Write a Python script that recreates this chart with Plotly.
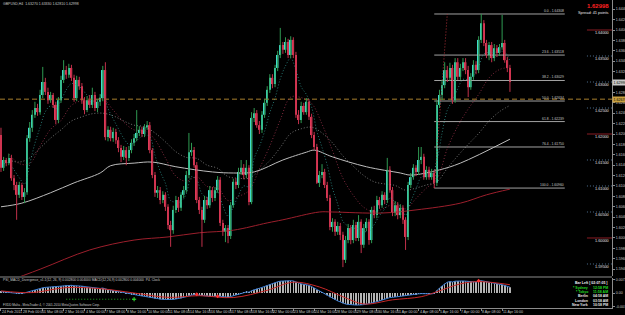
import plotly.graph_objects as go

# ---------------- price data (GBPUSD H4) ----------------
opens = [1.6198, 1.6135, 1.6150, 1.6144, 1.6154, 1.6115, 1.6102, 1.6083, 1.6102, 1.6079,
         1.6088, 1.6192, 1.6212, 1.6237, 1.6250, 1.6242, 1.6275, 1.6300, 1.6281, 1.6265,
         1.6275, 1.6256, 1.6227, 1.6265, 1.6304, 1.6323, 1.6314, 1.6327, 1.6308, 1.6269,
         1.6304, 1.6292, 1.6265, 1.6246, 1.6265, 1.6256, 1.6275, 1.6250, 1.6262, 1.6269,
         1.6323, 1.6194, 1.6208, 1.6192, 1.6204, 1.6188, 1.6173, 1.6156, 1.6169, 1.6154,
         1.6169, 1.6183, 1.6192, 1.6202, 1.6208, 1.6200, 1.6213, 1.6217, 1.6169, 1.6121,
         1.6087, 1.6092, 1.6073, 1.6083, 1.6060, 1.6025, 1.6015, 1.6054, 1.6073, 1.6058,
         1.6083, 1.6092, 1.6121, 1.6165, 1.6169, 1.6140, 1.6073, 1.6054, 1.6035, 1.6073,
         1.6063, 1.6092, 1.6077, 1.6092, 1.6112, 1.6029, 1.6012, 1.6019, 1.6004, 1.6063,
         1.6108, 1.6102, 1.6127, 1.6135, 1.6121, 1.6135, 1.6069, 1.6231, 1.6240, 1.6217,
         1.6208, 1.6237, 1.6260, 1.6285, 1.6308, 1.6296, 1.6327, 1.6352, 1.6371, 1.6362,
         1.6377, 1.6352, 1.6381, 1.6352, 1.6237, 1.6227, 1.6254, 1.6242, 1.6262, 1.6233,
         1.6198, 1.6175, 1.6106, 1.6121, 1.6127, 1.6102, 1.6077, 1.6021, 1.6031, 1.6012,
         1.6023, 1.6006, 1.5958, 1.5996, 1.6019, 1.5996, 1.6025, 1.6000, 1.6031, 1.5987,
         1.6019, 1.6031, 1.5996, 1.6054, 1.6044, 1.6073, 1.6063, 1.6083, 1.6073, 1.6131,
         1.6092, 1.6048, 1.6063, 1.6044, 1.6058, 1.6035, 1.6002, 1.6102, 1.6117, 1.6135,
         1.6127, 1.6150, 1.6156, 1.6117, 1.6131, 1.6117, 1.6125, 1.6106, 1.6256, 1.6275,
         1.6294, 1.6323, 1.6308, 1.6327, 1.6265, 1.6338, 1.6310, 1.6327, 1.6338, 1.6323,
         1.6290, 1.6310, 1.6333, 1.6323, 1.6381, 1.6413, 1.6375, 1.6352, 1.6371, 1.6346,
         1.6365, 1.6356, 1.6367, 1.6375, 1.6342, 1.6327]
highs = [1.6212, 1.6156, 1.6154, 1.6162, 1.6160, 1.6121, 1.6108, 1.6108, 1.6106, 1.6096,
         1.6198, 1.6223, 1.6246, 1.6262, 1.6258, 1.6285, 1.6329, 1.6308, 1.6289, 1.6281,
         1.6279, 1.6262, 1.6271, 1.6312, 1.6342, 1.6331, 1.6335, 1.6333, 1.6314, 1.6312,
         1.6310, 1.6298, 1.6271, 1.6273, 1.6275, 1.6289, 1.6281, 1.6267, 1.6277, 1.6331,
         1.6338, 1.6215, 1.6214, 1.6212, 1.6210, 1.6194, 1.6179, 1.6177, 1.6175, 1.6177,
         1.6190, 1.6200, 1.6246, 1.6215, 1.6214, 1.6219, 1.6225, 1.6223, 1.6173, 1.6127,
         1.6100, 1.6098, 1.6090, 1.6088, 1.6065, 1.6033, 1.6062, 1.6081, 1.6079, 1.6088,
         1.6100, 1.6129, 1.6202, 1.6183, 1.6175, 1.6146, 1.6079, 1.6060, 1.6081, 1.6079,
         1.6100, 1.6098, 1.6098, 1.6119, 1.6117, 1.6035, 1.6025, 1.6025, 1.6069, 1.6114,
         1.6115, 1.6135, 1.6150, 1.6142, 1.6150, 1.6140, 1.6242, 1.6250, 1.6246, 1.6225,
         1.6244, 1.6267, 1.6292, 1.6315, 1.6315, 1.6333, 1.6360, 1.6404, 1.6377, 1.6386,
         1.6383, 1.6388, 1.6386, 1.6358, 1.6246, 1.6262, 1.6260, 1.6269, 1.6267, 1.6239,
         1.6204, 1.6181, 1.6129, 1.6142, 1.6133, 1.6108, 1.6083, 1.6038, 1.6036, 1.6031,
         1.6029, 1.6012, 1.6004, 1.6027, 1.6025, 1.6035, 1.6031, 1.6044, 1.6036, 1.6027,
         1.6038, 1.6036, 1.6060, 1.6062, 1.6081, 1.6079, 1.6090, 1.6088, 1.6154, 1.6138,
         1.6098, 1.6071, 1.6069, 1.6065, 1.6063, 1.6040, 1.6108, 1.6125, 1.6142, 1.6140,
         1.6175, 1.6175, 1.6162, 1.6138, 1.6137, 1.6133, 1.6131, 1.6265, 1.6285, 1.6304,
         1.6338, 1.6331, 1.6337, 1.6333, 1.6346, 1.6346, 1.6335, 1.6346, 1.6346, 1.6331,
         1.6317, 1.6342, 1.6340, 1.6388, 1.6431, 1.6419, 1.6381, 1.6377, 1.6377, 1.6373,
         1.6371, 1.6373, 1.6429, 1.6381, 1.6348, 1.6333]
lows = [1.6127, 1.6129, 1.6138, 1.6140, 1.6110, 1.6092, 1.6035, 1.6077, 1.6073, 1.6067,
        1.6083, 1.6185, 1.6204, 1.6231, 1.6235, 1.6237, 1.6269, 1.6275, 1.6258, 1.6260,
        1.6250, 1.6219, 1.6221, 1.6260, 1.6298, 1.6306, 1.6308, 1.6302, 1.6262, 1.6263,
        1.6285, 1.6258, 1.6238, 1.6242, 1.6250, 1.6250, 1.6244, 1.6242, 1.6254, 1.6263,
        1.6188, 1.6186, 1.6186, 1.6185, 1.6181, 1.6165, 1.6146, 1.6150, 1.6140, 1.6148,
        1.6163, 1.6177, 1.6186, 1.6196, 1.6194, 1.6194, 1.6208, 1.6163, 1.6115, 1.6079,
        1.6077, 1.6065, 1.6067, 1.6052, 1.6017, 1.5983, 1.6008, 1.6048, 1.6050, 1.6052,
        1.6077, 1.6087, 1.6115, 1.6158, 1.6135, 1.6067, 1.6046, 1.5983, 1.6029, 1.6056,
        1.6058, 1.6069, 1.6071, 1.6087, 1.6023, 1.6004, 1.5992, 1.5990, 1.5998, 1.6058,
        1.6094, 1.6096, 1.6121, 1.6113, 1.6115, 1.6063, 1.6065, 1.6223, 1.6212, 1.6200,
        1.6202, 1.6231, 1.6254, 1.6279, 1.6288, 1.6290, 1.6321, 1.6346, 1.6354, 1.6356,
        1.6346, 1.6346, 1.6346, 1.6231, 1.6219, 1.6221, 1.6237, 1.6237, 1.6227, 1.6192,
        1.6169, 1.6104, 1.6098, 1.6115, 1.6096, 1.6071, 1.6015, 1.6012, 1.6004, 1.6006,
        1.5996, 1.5944, 1.5952, 1.5990, 1.5988, 1.5990, 1.5994, 1.5994, 1.5971, 1.5981,
        1.6013, 1.5987, 1.5990, 1.6038, 1.6038, 1.6056, 1.6058, 1.6065, 1.6067, 1.6087,
        1.6042, 1.6042, 1.6036, 1.6038, 1.6027, 1.5977, 1.5996, 1.6096, 1.6112, 1.6119,
        1.6121, 1.6142, 1.6112, 1.6112, 1.6112, 1.6112, 1.6096, 1.6100, 1.6250, 1.6265,
        1.6288, 1.6300, 1.6302, 1.6258, 1.6260, 1.6304, 1.6304, 1.6321, 1.6315, 1.6271,
        1.6285, 1.6304, 1.6315, 1.6317, 1.6375, 1.6369, 1.6346, 1.6342, 1.6338, 1.6340,
        1.6348, 1.6350, 1.6362, 1.6337, 1.6319, 1.6281]
closes = [1.6135, 1.6150, 1.6144, 1.6154, 1.6115, 1.6102, 1.6083, 1.6102, 1.6079, 1.6088,
          1.6192, 1.6212, 1.6237, 1.6250, 1.6242, 1.6275, 1.6300, 1.6281, 1.6265, 1.6275,
          1.6256, 1.6227, 1.6265, 1.6304, 1.6323, 1.6314, 1.6327, 1.6308, 1.6269, 1.6304,
          1.6292, 1.6265, 1.6246, 1.6265, 1.6256, 1.6275, 1.6250, 1.6262, 1.6269, 1.6323,
          1.6194, 1.6208, 1.6192, 1.6204, 1.6188, 1.6173, 1.6156, 1.6169, 1.6154, 1.6169,
          1.6183, 1.6192, 1.6202, 1.6208, 1.6200, 1.6213, 1.6217, 1.6169, 1.6121, 1.6087,
          1.6092, 1.6073, 1.6083, 1.6060, 1.6025, 1.6015, 1.6054, 1.6073, 1.6058, 1.6083,
          1.6092, 1.6121, 1.6165, 1.6169, 1.6140, 1.6073, 1.6054, 1.6035, 1.6073, 1.6063,
          1.6092, 1.6077, 1.6092, 1.6112, 1.6029, 1.6012, 1.6019, 1.6004, 1.6063, 1.6108,
          1.6102, 1.6127, 1.6135, 1.6121, 1.6135, 1.6069, 1.6231, 1.6240, 1.6217, 1.6208,
          1.6237, 1.6260, 1.6285, 1.6308, 1.6296, 1.6327, 1.6352, 1.6371, 1.6362, 1.6377,
          1.6352, 1.6381, 1.6352, 1.6237, 1.6227, 1.6254, 1.6242, 1.6262, 1.6233, 1.6198,
          1.6175, 1.6106, 1.6121, 1.6127, 1.6102, 1.6077, 1.6021, 1.6031, 1.6012, 1.6023,
          1.6006, 1.5958, 1.5996, 1.6019, 1.5996, 1.6025, 1.6000, 1.6031, 1.5987, 1.6019,
          1.6031, 1.5996, 1.6054, 1.6044, 1.6073, 1.6063, 1.6083, 1.6073, 1.6131, 1.6092,
          1.6048, 1.6063, 1.6044, 1.6058, 1.6035, 1.6002, 1.6102, 1.6117, 1.6135, 1.6127,
          1.6150, 1.6156, 1.6117, 1.6131, 1.6117, 1.6125, 1.6106, 1.6256, 1.6275, 1.6294,
          1.6323, 1.6308, 1.6327, 1.6265, 1.6338, 1.6310, 1.6327, 1.6338, 1.6323, 1.6290,
          1.6310, 1.6333, 1.6323, 1.6381, 1.6413, 1.6375, 1.6352, 1.6371, 1.6346, 1.6365,
          1.6356, 1.6367, 1.6375, 1.6342, 1.6327, 1.62998]
bars = list(range(len(closes)))

# ---------------- moving averages ----------------
ma_fast_bars = list(range(1, 196, 2))
ma_fast = [1.6142, 1.6145, 1.6131, 1.6116, 1.6104, 1.6142, 1.6182, 1.6213, 1.6243, 1.6254,
           1.6248, 1.6264, 1.6285, 1.6297, 1.6294, 1.6287, 1.6275, 1.6272, 1.6266, 1.6279,
           1.6249, 1.6229, 1.6210, 1.6192, 1.6180, 1.6183, 1.6192, 1.6198, 1.6195, 1.6159,
           1.6128, 1.6105, 1.6072, 1.6069, 1.6070, 1.6085, 1.6118, 1.6112, 1.6085, 1.6078,
           1.6080, 1.6089, 1.6062, 1.6042, 1.6060, 1.6082, 1.6100, 1.6099, 1.6153, 1.6176,
           1.6205, 1.6241, 1.6269, 1.6306, 1.6331, 1.6346, 1.6323, 1.6291, 1.6276, 1.6252,
           1.6206, 1.6174, 1.6140, 1.6096, 1.6065, 1.6032, 1.6023, 1.6019, 1.6018, 1.6013,
           1.6012, 1.6026, 1.6043, 1.6056, 1.6077, 1.6069, 1.6062, 1.6044, 1.6070, 1.6094,
           1.6117, 1.6120, 1.6121, 1.6148, 1.6202, 1.6246, 1.6264, 1.6287, 1.6305, 1.6305,
           1.6312, 1.6329, 1.6354, 1.6357, 1.6357, 1.6359, 1.6358, 1.6340]
ma_mid_bars = list(range(3, 196, 4))
ma_mid = [1.6162, 1.6143, 1.6143, 1.6177, 1.6209, 1.6226, 1.6255, 1.6264, 1.6263, 1.6267,
          1.6246, 1.6223, 1.6208, 1.6207, 1.6189, 1.6154, 1.6119, 1.6109, 1.6118, 1.6099,
          1.6097, 1.6072, 1.6080, 1.6091, 1.6133, 1.6177, 1.6227, 1.6271, 1.6270, 1.6259,
          1.6219, 1.6168, 1.6115, 1.6082, 1.6059, 1.6050, 1.6058, 1.6066, 1.6056, 1.6076,
          1.6096, 1.6113, 1.6172, 1.6215, 1.6248, 1.6276, 1.6308, 1.6324, 1.6328]
ma_slow_bars = list(range(3, 196, 4))
ma_slow = [1.6150, 1.6146, 1.6154, 1.6173, 1.6192, 1.6208, 1.6225, 1.6233, 1.6239, 1.6240,
           1.6235, 1.6225, 1.6217, 1.6214, 1.6202, 1.6185, 1.6166, 1.6155, 1.6153, 1.6140,
           1.6134, 1.6118, 1.6115, 1.6115, 1.6130, 1.6149, 1.6174, 1.6201, 1.6210, 1.6213,
           1.6202, 1.6183, 1.6158, 1.6138, 1.6120, 1.6108, 1.6104, 1.6101, 1.6092, 1.6096,
           1.6102, 1.6108, 1.6134, 1.6158, 1.6180, 1.6201, 1.6225, 1.6243, 1.6255]
sma_white_bars = [0, 8, 19, 28, 38, 42, 51, 58, 67, 81, 89, 97, 108, 117, 120, 127, 140, 153, 157, 168, 176, 195]
sma_white = [1.6060, 1.6067, 1.6087, 1.6106, 1.6125, 1.6139, 1.6144, 1.6146, 1.6137, 1.6127, 1.6125,
             1.6127, 1.6150, 1.6165, 1.6169, 1.6156, 1.6137, 1.6125, 1.6121, 1.6131, 1.6144, 1.6190]
sma_red_bars = [0, 15, 34, 51, 64, 76, 89, 102, 108, 122, 127, 146, 159, 176, 186, 195]
sma_red = [1.5912, 1.5940, 1.5977, 1.5996, 1.6002, 1.6010, 1.6015, 1.6029, 1.6035, 1.6050,
           1.6050, 1.6048, 1.6054, 1.6067, 1.6083, 1.6094]

# ---------------- MACD sub-window ----------------
macd = [0.0007, 0.0005, 0.0004, 0.0003, 0.0001, 0.0000, -0.0001, -0.0001, -0.0001, 0.0000,
        0.0004, 0.0008, 0.0012, 0.0015, 0.0018, 0.0021, 0.0025, 0.0027, 0.0028, 0.0029,
        0.0030, 0.0030, 0.0031, 0.0033, 0.0035, 0.0037, 0.0037, 0.0037, 0.0035, 0.0035,
        0.0034, 0.0033, 0.0031, 0.0029, 0.0027, 0.0026, 0.0024, 0.0023, 0.0022, 0.0024,
        0.0019, 0.0016, 0.0014, 0.0012, 0.0010, 0.0007, 0.0004, 0.0002, -0.0001, -0.0003,
        -0.0005, -0.0007, -0.0010, -0.0012, -0.0014, -0.0016, -0.0018, -0.0021, -0.0024, -0.0027,
        -0.0029, -0.0030, -0.0031, -0.0031, -0.0032, -0.0032, -0.0031, -0.0029, -0.0027, -0.0025,
        -0.0022, -0.0018, -0.0013, -0.0010, -0.0008, -0.0009, -0.0011, -0.0013, -0.0014, -0.0015,
        -0.0016, -0.0016, -0.0015, -0.0014, -0.0016, -0.0018, -0.0019, -0.0020, -0.0017, -0.0014,
        -0.0010, -0.0007, -0.0003, 0.0001, 0.0005, 0.0004, 0.0011, 0.0016, 0.0020, 0.0023,
        0.0027, 0.0032, 0.0037, 0.0042, 0.0046, 0.0050, 0.0054, 0.0057, 0.0058, 0.0059,
        0.0059, 0.0059, 0.0058, 0.0052, 0.0047, 0.0044, 0.0042, 0.0040, 0.0037, 0.0031,
        0.0024, 0.0014, 0.0007, 0.0002, -0.0004, -0.0011, -0.0020, -0.0027, -0.0033, -0.0038,
        -0.0043, -0.0050, -0.0053, -0.0055, -0.0057, -0.0058, -0.0058, -0.0058, -0.0058, -0.0056,
        -0.0054, -0.0052, -0.0048, -0.0045, -0.0042, -0.0038, -0.0034, -0.0030, -0.0025, -0.0022,
        -0.0021, -0.0019, -0.0017, -0.0015, -0.0014, -0.0014, -0.0010, -0.0008, -0.0006, -0.0005,
        -0.0004, -0.0003, -0.0004, -0.0004, -0.0004, -0.0004, -0.0002, 0.0012, 0.0024, 0.0034,
        0.0045, 0.0052, 0.0055, 0.0053, 0.0057, 0.0058, 0.0058, 0.0058, 0.0057, 0.0055,
        0.0054, 0.0054, 0.0053, 0.0056, 0.0059, 0.0057, 0.0054, 0.0052, 0.0048, 0.0046,
        0.0044, 0.0042, 0.0040, 0.0037, 0.0033, 0.0028]
signal_bars = [0, 12, 25, 38, 51, 64, 76, 89, 102, 112, 122, 131, 139, 150, 161, 167, 176, 183, 195]
signal = [0.0010, 0.0002, 0.0026, 0.0021, 0.0000, -0.0021, -0.0013, -0.0022, 0.0013, 0.0052,
          0.0029, -0.0018, -0.0053, -0.0033, -0.0018, 0.0006, 0.0044, 0.0055, 0.0040]
div_red_bars = [75, 83, 183]
div_red_vals = [-0.0006, -0.0016, 0.0059]
div_green_bars = [25, 51]
div_green_vals = [-0.0030, -0.0030]

# ---------------- chart objects / labels ----------------
tick_bars = list(range(0, 193, 8))
tick_labels = ["24 Feb 2011", "28 Feb 00:00", "1 Mar 08:00", "2 Mar 16:00", "4 Mar 00:00",
               "7 Mar 08:00", "8 Mar 16:00", "10 Mar 00:00", "11 Mar 08:00", "14 Mar 16:00",
               "16 Mar 00:00", "17 Mar 08:00", "18 Mar 16:00", "22 Mar 00:00", "23 Mar 08:00",
               "24 Mar 16:00", "28 Mar 00:00", "29 Mar 08:00", "30 Mar 16:00", "1 Apr 00:00",
               "4 Apr 08:00", "5 Apr 16:00", "7 Apr 00:00", "8 Apr 08:00", "11 Apr 16:00"]
fib_levels = [0.0, 23.6, 38.2, 50.0, 61.8, 76.4, 100.0]
fib_high = 1.64308
fib_low = 1.60960
fib_start_bar = 166
fib_end_bar = 216
fib_peak_bar = 171
hline_price = 1.6267
round_levels = [1.640, 1.635, 1.630, 1.625, 1.620, 1.615, 1.610, 1.605, 1.600, 1.595]
major_levels = [1.640, 1.620, 1.600]
round_bar_from = 224.5
round_bar_to = 234.1
spread_points = 41
clock_names = ["* Sydney", "* Tokyo", "Berlin", "London", "New York"]
clock_times = ["12:58 PM", "11:58 AM", "04:58 AM", "03:58 AM", "10:58 PM"]
clock_colors = ["#22dd22", "#22dd22", "#e8e8e8", "#e8e8e8", "#e8e8e8"]
bar_left = "02:07:05"

# ---------------- styling ----------------
BULL = "#3fdccb"
BEAR = "#e03a58"
BULL_WICK = "#2f9a52"
BEAR_WICK = "#c0304a"
TXT = "#c8c8c8"
FONT = "Liberation Sans"
X_RANGE = [-0.38, 234.1]
PLOT_H = 308.0
DOTS = "1px,2px"


def py(px):
    return (PLOT_H - px) / PLOT_H


fig = go.Figure()

# fib retracement lines
for lvl in fib_levels:
    price = fib_high - (fib_high - fib_low) * lvl / 100.0
    fig.add_trace(go.Scatter(x=[fib_start_bar, fib_end_bar], y=[price, price], mode="lines",
                             line=dict(color="#b4b4b4", width=0.9), hoverinfo="skip"))
    fig.add_annotation(x=fib_end_bar, y=price, xref="x", yref="y", text=f"{lvl:.1f} - {price:.5f}",
                       showarrow=False, xanchor="right", yanchor="bottom", borderpad=0,
                       font=dict(size=3.4, color=TXT, family=FONT))
fig.add_trace(go.Scatter(x=[fib_start_bar, fib_peak_bar], y=[fib_low, fib_high], mode="lines",
                         line=dict(color="#b03038", width=1, dash=DOTS), hoverinfo="skip"))

# horizontal dashed line
fig.add_trace(go.Scatter(x=[X_RANGE[0], X_RANGE[1]], y=[hline_price, hline_price], mode="lines",
                         line=dict(color="#a87e2c", width=1, dash="5px,3px"), hoverinfo="skip"))

# round number markers
for lv in round_levels:
    major = lv in major_levels
    fig.add_trace(go.Scatter(x=[round_bar_from, round_bar_to], y=[lv, lv], mode="lines",
                             line=dict(color="#8a1c24" if major else "#4d6f8f", width=1,
                                       dash="solid" if major else DOTS), hoverinfo="skip"))
    fig.add_annotation(x=233.4, y=lv, xref="x", yref="y", text=f"{lv:.5f}", showarrow=False,
                       xanchor="right", yanchor="top", borderpad=0,
                       font=dict(size=3.8, color="#e0e0e0", family=FONT))

# slow MAs
fig.add_trace(go.Scatter(x=sma_red_bars, y=sma_red, mode="lines", line_shape="spline",
                         line=dict(color="#9c1f2c", width=1), hoverinfo="skip"))
fig.add_trace(go.Scatter(x=sma_white_bars, y=sma_white, mode="lines", line_shape="spline",
                         line=dict(color="#bdbdbd", width=1), hoverinfo="skip"))

# dotted MAs (behind the candles)
fig.add_trace(go.Scatter(x=ma_slow_bars, y=ma_slow, mode="lines", line_shape="spline", opacity=0.8,
                         line=dict(color="#b8b8b8", width=0.8, dash=DOTS), hoverinfo="skip"))
fig.add_trace(go.Scatter(x=ma_mid_bars, y=ma_mid, mode="lines", line_shape="spline", opacity=0.85,
                         line=dict(color="#c0405e", width=0.8, dash=DOTS), hoverinfo="skip"))
fig.add_trace(go.Scatter(x=ma_fast_bars, y=ma_fast, mode="lines", line_shape="spline", opacity=0.85,
                         line=dict(color="#3ab0a8", width=0.8, dash=DOTS), hoverinfo="skip"))


# candles: wicks
def wick_xy(idx):
    xs, ys = [], []
    for i in idx:
        xs += [i, i, None]
        ys += [lows[i], highs[i], None]
    return xs, ys


up_idx = [i for i in bars if closes[i] >= opens[i]]
dn_idx = [i for i in bars if closes[i] < opens[i]]
wx, wy = wick_xy(up_idx)
fig.add_trace(go.Scatter(x=wx, y=wy, mode="lines", line=dict(color=BULL_WICK, width=1), hoverinfo="skip"))
wx, wy = wick_xy(dn_idx)
fig.add_trace(go.Scatter(x=wx, y=wy, mode="lines", line=dict(color=BEAR_WICK, width=1), hoverinfo="skip"))

# candles: bodies
body_base = [min(o, c) for o, c in zip(opens, closes)]
body_h = [max(abs(c - o), 0.00005) for o, c in zip(opens, closes)]
body_col = [BULL if c >= o else BEAR for o, c in zip(opens, closes)]
fig.add_trace(go.Bar(x=bars, y=body_h, base=body_base, width=0.62,
                     marker=dict(color=body_col, line=dict(width=0)), hoverinfo="skip"))

# MACD window
fig.add_trace(go.Bar(x=bars, y=macd, width=0.22, marker=dict(color="#b4b4b4", line=dict(width=0)),
                     xaxis="x2", yaxis="y2", hoverinfo="skip"))
fig.add_trace(go.Scatter(x=bars, y=macd, mode="lines", line=dict(color="#3d7fd6", width=1),
                         xaxis="x2", yaxis="y2", hoverinfo="skip"))
fig.add_trace(go.Scatter(x=signal_bars, y=signal, mode="lines", line_shape="spline",
                         line=dict(color="#c82828", width=1), xaxis="x2", yaxis="y2", hoverinfo="skip"))
fig.add_trace(go.Scatter(x=div_green_bars, y=div_green_vals, mode="lines",
                         line=dict(color="#22aa22", width=1, dash=DOTS), xaxis="x2", yaxis="y2", hoverinfo="skip"))
fig.add_trace(go.Scatter(x=div_green_bars[-1:], y=div_green_vals[-1:], mode="markers",
                         marker=dict(symbol="cross-thin", size=3, line=dict(color="#33ee33", width=1)),
                         xaxis="x2", yaxis="y2", hoverinfo="skip"))
fig.add_trace(go.Scatter(x=div_red_bars, y=div_red_vals, mode="markers",
                         marker=dict(symbol="diamond", size=3, color="#ff3030"),
                         xaxis="x2", yaxis="y2", hoverinfo="skip"))

# ---------------- annotations ----------------
ann_font = dict(size=3.6, color=TXT, family=FONT)
for b, lab in zip(tick_bars, tick_labels):
    fig.add_annotation(x=b, y=py(311.5), xref="x2", yref="paper", text=lab, showarrow=False,
                       xanchor="left", yanchor="middle", borderpad=0, font=ann_font)

last = len(closes) - 1
fig.add_annotation(x=0.004, y=py(4), xref="paper", yref="paper",
                   text=f"GBPUSD,H4  {opens[last]:.5f} {highs[last]:.5f} {lows[last]:.5f} {closes[last]:.5f}",
                   showarrow=False, xanchor="left", yanchor="middle", borderpad=0,
                   font=dict(size=3.5, color=TXT, family=FONT))
fig.add_annotation(x=610 / 612, y=py(6), xref="paper", yref="paper", text=f"<b>{closes[last]:.5f}</b>",
                   showarrow=False, xanchor="right", yanchor="middle", borderpad=0,
                   font=dict(size=6, color="#ff2020", family=FONT))
fig.add_annotation(x=610 / 612, y=py(12.5), xref="paper", yref="paper", text=f"Spread: {spread_points} points",
                   showarrow=False, xanchor="right", yanchor="middle", borderpad=0,
                   font=dict(size=3.9, color="#e8e8e8", family=FONT))
# price tags on the axis
fig.add_annotation(x=1.0, y=hline_price, xref="paper", yref="y", text=f"{hline_price:.5f}", showarrow=False,
                   xanchor="left", yanchor="middle", bgcolor="#c9a040", borderpad=0.5,
                   font=dict(size=3.6, color="#000000", family=FONT))
fig.add_annotation(x=1.0, y=closes[last], xref="paper", yref="y", text=f"{closes[last]:.5f}", showarrow=False,
                   xanchor="left", yanchor="middle", bgcolor="#c8c8c8", borderpad=0.5,
                   font=dict(size=3.6, color="#000000", family=FONT))

fig.add_annotation(x=0.004, y=py(280), xref="paper", yref="paper",
                   text=f"PSI_MACD_Divergence_v1.1(12, 26, 9) {macd[last]:.6f} {signal[-1]:.6f} "
                        f"MACD(12,26,9) {macd[last]:.6f} {signal[-1]:.6f}  P4. Clock",
                   showarrow=False, xanchor="left", yanchor="middle", borderpad=0,
                   font=dict(size=3.3, color=TXT, family=FONT))
fig.add_annotation(x=0.004, y=py(305), xref="paper", yref="paper",
                   text="FXDD Malta - MetaTrader 4, © 2001-2010 MetaQuotes Software Corp.",
                   showarrow=False, xanchor="left", yanchor="middle", borderpad=0,
                   font=dict(size=3.1, color=TXT, family=FONT))
fig.add_annotation(x=608 / 612, y=py(283), xref="paper", yref="paper", text=f"<b>Bar Left [ {bar_left} ]</b>",
                   showarrow=False, xanchor="right", yanchor="middle", borderpad=0,
                   font=dict(size=3.5, color="#f0f0f0", family=FONT))
for k, (nm, tm, col) in enumerate(zip(clock_names, clock_times, clock_colors)):
    yy = py(287.5 + 4.4 * k)
    fig.add_annotation(x=589 / 612, y=yy, xref="paper", yref="paper", text=f"<b>{nm}</b>", showarrow=False,
                       xanchor="right", yanchor="middle", borderpad=0, font=dict(size=3.5, color=col, family=FONT))
    fig.add_annotation(x=592 / 612, y=yy, xref="paper", yref="paper", text=f"<b>{tm}</b>", showarrow=False,
                       xanchor="left", yanchor="middle", borderpad=0, font=dict(size=3.5, color=col, family=FONT))

# panel separator
fig.add_shape(type="line", xref="paper", yref="paper", x0=0, x1=1, y0=py(277), y1=py(277),
              line=dict(color="#8c8c8c", width=1))

axis_font = dict(size=3.6, color=TXT, family=FONT)
fig.update_layout(
    width=625, height=315,
    margin=dict(l=0, r=13, t=0, b=7),
    paper_bgcolor="#000000", plot_bgcolor="#000000",
    showlegend=False, barmode="overlay", hovermode=False,
    xaxis=dict(domain=[0, 1], range=X_RANGE, anchor="y", showticklabels=False, showgrid=False,
               zeroline=False, showline=False, ticks=""),
    xaxis2=dict(domain=[0, 1], range=X_RANGE, anchor="y2", matches="x", tickvals=tick_bars,
                ticks="outside", ticklen=2, tickcolor="#8c8c8c", showticklabels=False, showgrid=False,
                zeroline=False, showline=True, linecolor="#8c8c8c", linewidth=1),
    yaxis=dict(domain=[py(276), 1], range=[1.59269, 1.64577], side="right", showgrid=False,
               zeroline=False, showline=True, linecolor="#8c8c8c", linewidth=1, ticks="outside",
               ticklen=2, tickcolor="#8c8c8c", tick0=0, dtick=0.002, tickformat=".5f",
               tickfont=axis_font, automargin=False),
    yaxis2=dict(domain=[0, py(278)], range=[-0.00723, 0.00723], side="right", showgrid=False,
                zeroline=False, showline=True, linecolor="#8c8c8c", linewidth=1, ticks="outside",
                ticklen=2, tickcolor="#8c8c8c", tickvals=[0.0066, 0.0, -0.0066],
                ticktext=["0.00723", "0.00", "-0.0072"], tickfont=axis_font, automargin=False),
)

fig.write_html("out.html")
